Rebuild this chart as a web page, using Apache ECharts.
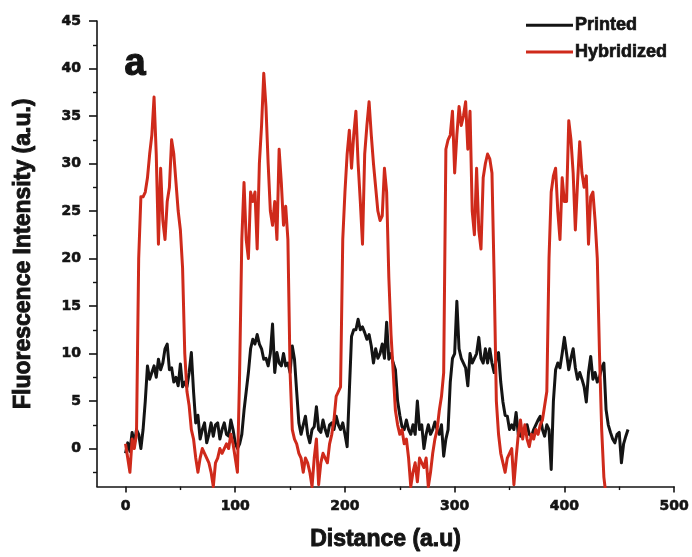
<!DOCTYPE html>
<html>
<head>
<meta charset="utf-8">
<script src="https://cdn.jsdelivr.net/npm/echarts@6/dist/echarts.min.js"></script>
<style>
  html, body { margin: 0; padding: 0; background: #fff; }
  #chart { width: 692px; height: 557px; }
</style>
</head>
<body>
<div id="chart"></div>
<script>
// Distance samples (a.u)
const distance = [
  0, 2, 4, 6, 8, 10, 12, 14, 16, 18,
  20, 22, 24, 26, 28, 30, 32, 34, 36, 38,
  40, 42, 44, 46, 48, 50, 52, 54, 56, 58,
  60, 62, 64, 66, 68, 70, 72, 74, 76, 78,
  80, 82, 84, 86, 88, 90, 92, 94, 96, 98,
  100, 102, 104, 106, 108, 110, 112, 114, 116, 118,
  120, 122, 124, 126, 128, 130, 132, 134, 136, 138,
  140, 142, 144, 146, 148, 150, 152, 154, 156, 158,
  160, 162, 164, 166, 168, 170, 172, 174, 176, 178,
  180, 182, 184, 186, 188, 190, 192, 194, 196, 198,
  200, 202, 204, 206, 208, 210, 212, 214, 216, 218,
  220, 222, 224, 226, 228, 230, 232, 234, 236, 238,
  240, 242, 244, 246, 248, 250, 252, 254, 256, 258,
  260, 262, 264, 266, 268, 270, 272, 274, 276, 278,
  280, 282, 284, 286, 288, 290, 292, 294, 296, 298,
  300, 302, 304, 306, 308, 310, 312, 314, 316, 318,
  320, 322, 324, 326, 328, 330, 332, 334, 336, 338,
  340, 342, 344, 346, 348, 350, 352, 354, 356, 358,
  360, 362, 364, 366, 368, 370, 372, 374, 376, 378,
  380, 382, 384, 386, 388, 390, 392, 394, 396, 398,
  400, 402, 404, 406, 408, 410, 412, 414, 416, 418,
  420, 422, 424, 426, 428, 430, 432, 434, 436, 438,
  440, 442, 444, 446, 448, 450, 452, 454, 456, 458
];

// Fluorescence intensity of the printed spots (a.u.)
const printed = [
  -0.5, 0.6, -0.3, 1.7, 0.5, 2, 1.5, 0, 2, 5,
  8.7, 7.3, 8, 8.7, 7.5, 9.4, 8.3, 9, 10.5, 11,
  8.3, 8.5, 7, 7.5, 6.6, 8.9, 6.5, 7, 6.5, 8,
  10.1, 6, 2.7, 3.5, 1, 2, 2.7, 0.6, 1.5, 2.7,
  1.3, 2.5, 2.7, 1, 2, 2.7, 1.5, 1.3, 3, 2,
  0.6, 0, 0.5, 1.5, 4, 6, 8, 10.5, 11.5, 11,
  12, 11, 10.5, 9.4, 9.5, 8.7, 10, 13.1, 8, 10.1,
  9, 8.7, 10, 8.7, 9, 8, 10.8, 9.4, 6, 2.7,
  1.5, 2.5, 3.4, 1.5, 0.6, 2, 2.3, 4.4, 2, 1.7,
  3, 2, 1.3, 2.5, 2.7, 2, 3.4, 2.5, 2, 2.7,
  1.5, 0.2, 6, 11.8, 12.5, 12.5, 13.6, 12.5, 12.8, 12.2,
  11.5, 12, 10.8, 9, 10.5, 9.5, 10, 11, 9.5, 13.3,
  9.4, 10, 9, 8.3, 5, 3.5, 2.3, 2, 3, 2,
  1.5, 2.5, 1.5, 5, 2, 2.5, 0, 1.5, 2.5, 1.5,
  2, 2.8, 2, 1.5, 2.5, -0.8, 1, 2, 7, 9.5,
  10, 15.5, 10.5, 9.5, 9, 8.5, 6.6, 10, 9, 9.5,
  10, 11.7, 9.5, 9, 10.5, 9, 10.5, 9, 8, 9.5,
  10.1, 7, 4.9, 3.5, 3.4, 2, 2.5, 2, 3.8, 1.5,
  1.3, 2, 1.7, 2.5, 1.5, 1.3, 2, 2.5, 3, 3.4,
  2, 1.3, 2.5, 2, -2.2, 5, 8.3, 9, 8.5, 10,
  11.7, 10, 8.3, 9.5, 10.5, 8.5, 7.3, 8, 7.3, 6.5,
  4.9, 8, 9.7, 7.3, 8, 7, 7.5, 8.5, 9, 4.1,
  2.5, 1.7, 1, 0.6, 1.5, 1.7, -1.5, 0.5, 1.3, 2
];

// Fluorescence intensity after hybridization (a.u.), profile ends at 438
const hybridized = [
  0.5, -1, -2.5, 1, 0, 1.5, 20, 26.5, 26.5, 27,
  28.5, 31, 33, 37, 31, 21.5, 29.5, 24, 22, 26,
  27.5, 32.5, 31, 28, 25, 23, 19, 10, 6, 4.5,
  2, 1, -1, -2.5, -1, 0, -0.5, -1, -1.5, -2.5,
  -4, -1.5, -1, 0, -0.5, 0, 0.5, 0, 1.5, 0.5,
  -1, -2.5, 8, 22, 28, 22, 20, 27, 26, 27,
  21, 30, 34, 39.5, 36, 30, 25, 23.5, 26, 22,
  31.5, 28, 23.5, 25.5, 22, 8, 2, 1, 0.5, -0.5,
  -1, -2.5, -1, -1.5, -2.5, -4, -1, 1, -3.8, -1.5,
  -0.5, -1, -1.5, 0.5, 1.5, 3, 5.5, 6, 6.5, 22,
  27, 31, 33.5, 29.5, 33, 35.5, 30, 26, 21.5, 31,
  34, 36.5, 33, 30, 27.5, 25, 24, 24.5, 29.5, 27,
  18, 12, 8, 4, 2.5, 1.5, 2, 0.5, 1, -1,
  -4, -2.5, -1.5, -3.5, -1, -1.5, -2, -1, -4, -2.5,
  -0.5, 1, 2, 4, 5.5, 8, 31.5, 32.5, 33, 35.5,
  29, 33, 36, 34, 35, 36.5, 31.5, 35.5, 25, 22.5,
  29.5, 23, 21, 28.5, 30, 31, 30.5, 29, 18, 5,
  1.5, -0.5, -1.5, -2.5, -1, -0.5, 0, -3.8, -1, 1.5,
  3, 1, 2.5, 1, 0.2, 1.5, 1, 2, 1.5, 2.5,
  3, 4.5, 6, 20, 27, 28.7, 29.5, 25, 22, 28.5,
  26, 26, 34.5, 32.5, 29, 23, 28, 32.3, 29, 27.5,
  28.7, 21.5, 26.5, 27, 24, 20, 10, 2, -3, -5
];

// Axis ticks
const xMajorTicks = [0, 100, 200, 300, 400, 500];
const xMinorTicks = [50, 150, 250, 350, 450];
const yMajorTicks = [0, 5, 10, 15, 20, 25, 30, 35, 40, 45];
const yMinorTicks = [-2.5, 2.5, 7.5, 12.5, 17.5, 22.5, 27.5, 32.5, 37.5, 42.5];

const INK = '#141414';
const RED = '#cf2a1b';
const X_MIN = -26, X_MAX = 500, Y_MIN = -4, Y_MAX = 45;

// heavy bold text: a thin outline in the same ink thickens the glyphs
const tickFont = {
  fontFamily: 'DejaVu Sans', fontWeight: 'bold', fontSize: 14, color: INK,
  textBorderColor: INK, textBorderWidth: 0.6
};
const titleFont = {
  fontFamily: 'Liberation Sans', fontWeight: 'bold', fontSize: 23, color: INK,
  textBorderColor: INK, textBorderWidth: 0.9
};

const printedData = printed.map((v, i) => [distance[i], v]);
const hybridizedData = hybridized.map((v, i) => [distance[i], v]);

const chart = echarts.init(document.getElementById('chart'), null, { renderer: 'canvas' });

chart.setOption({
  animation: false,
  backgroundColor: '#fff',
  grid: { left: 97, right: 17, top: 21, bottom: 70, containLabel: false },
  legend: {
    data: ['Printed', 'Hybridized'],
    orient: 'vertical',
    left: 521,
    top: 11,
    icon: 'rect',
    itemWidth: 47,
    itemHeight: 3,
    itemGap: 8,
    textStyle: {
      fontFamily: 'Liberation Sans', fontWeight: 'bold', fontSize: 18, color: INK,
      textBorderColor: INK, textBorderWidth: 0.7, padding: [0, 0, 0, -3]
    }
  },
  graphic: [{
    type: 'text',
    left: 124,
    top: 45,
    style: {
      text: 'a', font: 'bold 38px "Liberation Sans"', fill: INK,
      stroke: INK, lineWidth: 1.2
    }
  }],
  xAxis: [{
    type: 'value',
    min: X_MIN, max: X_MAX,
    position: 'bottom',
    name: 'Distance (a.u)',
    nameLocation: 'middle',
    nameGap: 42,
    nameTextStyle: titleFont,
    axisLine: { show: true, onZero: false, lineStyle: { color: INK, width: 1.6 } },
    axisTick: { show: true, customValues: xMajorTicks, length: 6, lineStyle: { color: INK, width: 1.6 } },
    axisLabel: Object.assign({ customValues: xMajorTicks, margin: 13 }, tickFont),
    splitLine: { show: false }
  }, {
    type: 'value',
    min: X_MIN, max: X_MAX,
    position: 'bottom',
    axisLine: { show: false, onZero: false },
    axisTick: { show: true, customValues: xMinorTicks, length: 3.5, lineStyle: { color: INK, width: 1.4 } },
    axisLabel: { show: false },
    splitLine: { show: false }
  }],
  yAxis: [{
    type: 'value',
    min: Y_MIN, max: Y_MAX,
    position: 'left',
    name: 'Fluorescence Intensity (a.u.)',
    nameLocation: 'middle',
    nameGap: 62,
    nameTextStyle: titleFont,
    axisLine: { show: true, onZero: false, lineStyle: { color: INK, width: 1.6 } },
    axisTick: { show: true, customValues: yMajorTicks, length: 8, lineStyle: { color: INK, width: 1.6 } },
    axisLabel: Object.assign({ customValues: yMajorTicks, margin: 16 }, tickFont),
    splitLine: { show: false }
  }, {
    type: 'value',
    min: Y_MIN, max: Y_MAX,
    position: 'left',
    axisLine: { show: false, onZero: false },
    axisTick: { show: true, customValues: yMinorTicks, length: 4, lineStyle: { color: INK, width: 1.4 } },
    axisLabel: { show: false },
    splitLine: { show: false }
  }],
  series: [{
    name: 'Printed',
    type: 'line',
    xAxisIndex: 0, yAxisIndex: 0,
    data: printedData,
    showSymbol: false,
    clip: true,
    color: INK,
    lineStyle: { color: INK, width: 3, join: 'round' }
  }, {
    name: 'Hybridized',
    type: 'line',
    xAxisIndex: 0, yAxisIndex: 0,
    data: hybridizedData,
    showSymbol: false,
    clip: true,
    color: RED,
    lineStyle: { color: RED, width: 3, join: 'round' }
  }]
});
</script>
</body>
</html>
